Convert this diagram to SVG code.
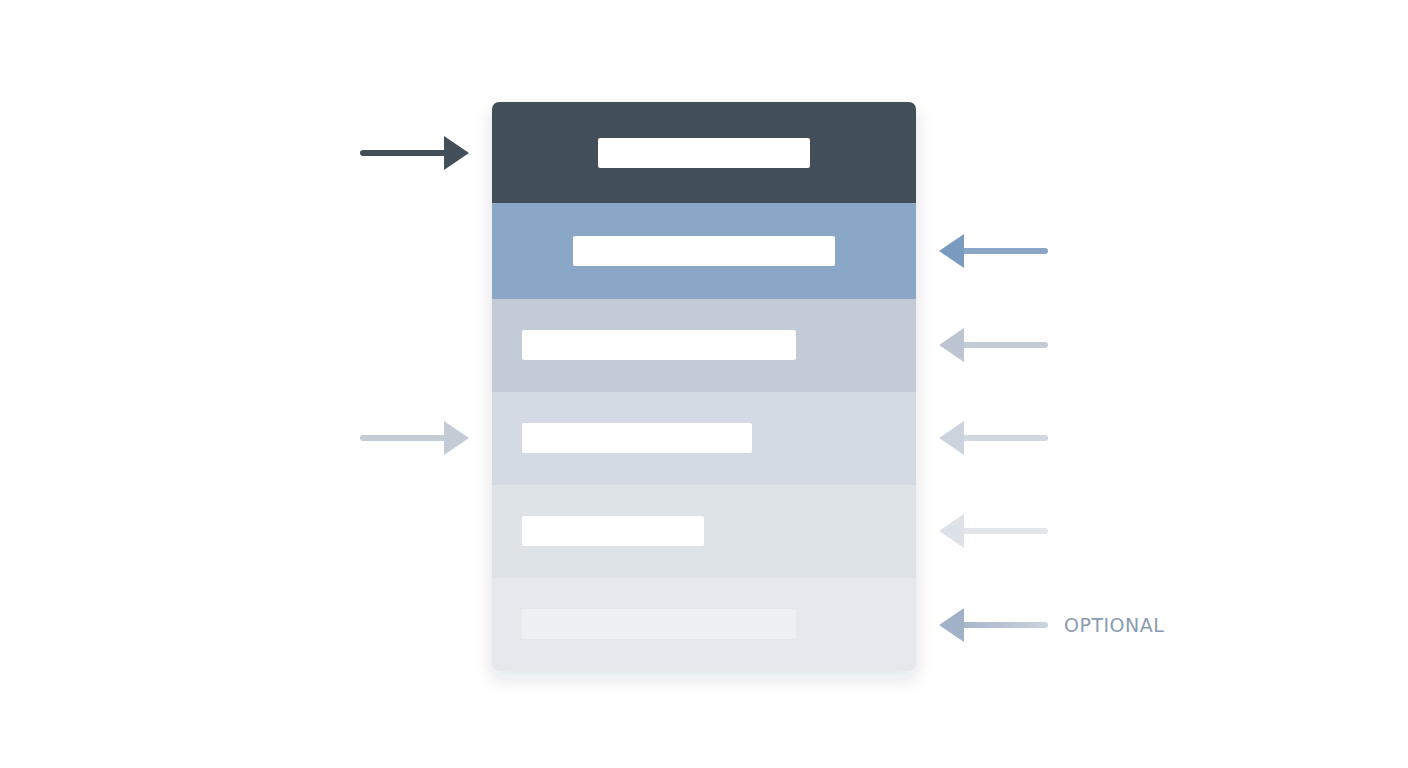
<svg xmlns="http://www.w3.org/2000/svg" width="1408" height="768" viewBox="0 0 1408 768">
  <style>
    .bar { fill: #ffffff; }
    .line { stroke-width: 6; stroke-linecap: round; fill: none; }
    .label { font-family: "DejaVu Sans", "Noto Sans", sans-serif; font-size: 19px; fill: #8a9bb0; letter-spacing: 0.5px; }
  </style>
  <defs>
    <filter id="shadow" x="-20%" y="-20%" width="140%" height="140%">
      <feDropShadow dx="0" dy="8" stdDeviation="9" flood-color="#1e2a36" flood-opacity="0.12"/>
    </filter>
    <clipPath id="cardClip">
      <rect x="492" y="102" width="424" height="569" rx="7"/>
    </clipPath>
    <linearGradient id="optGrad" gradientUnits="userSpaceOnUse" x1="962" y1="625" x2="1045" y2="625">
      <stop offset="0" stop-color="#a6b6ca"/>
      <stop offset="1" stop-color="#c9d2dd"/>
    </linearGradient>
  </defs>
  <rect width="1408" height="768" fill="#ffffff"/>

  <g id="card">
    <rect x="492" y="102" width="424" height="569" rx="7" fill="#e5e9ed" filter="url(#shadow)"/>
    <g clip-path="url(#cardClip)">
      <g id="row1">
        <rect x="492" y="102" width="424" height="101" fill="#434f58"/>
        <rect class="bar" x="598" y="138" width="212" height="30" rx="2"/>
      </g>
      <g id="row2">
        <rect x="492" y="203" width="424" height="96" fill="#8aa7c7"/>
        <rect class="bar" x="573" y="236" width="262" height="30" rx="2"/>
      </g>
      <g id="row3">
        <rect x="492" y="299" width="424" height="93" fill="#c3cbd6"/>
        <rect class="bar" x="522" y="330" width="274" height="30" rx="2"/>
      </g>
      <g id="row4">
        <rect x="492" y="392" width="424" height="93" fill="#d3dae3"/>
        <rect class="bar" x="522" y="423" width="230" height="30" rx="2"/>
      </g>
      <g id="row5">
        <rect x="492" y="485" width="424" height="93" fill="#dee3e8"/>
        <rect class="bar" x="522" y="516" width="182" height="30" rx="2"/>
      </g>
      <g id="row6">
        <rect x="492" y="578" width="424" height="93" fill="#e5e9ed"/>
        <rect x="522" y="609" width="274" height="30" rx="2" fill="#eef1f3"/>
      </g>
    </g>
  </g>

  <g id="connectors">
    <g id="in-top">
      <line class="line" x1="363" y1="153" x2="446" y2="153" stroke="#434f58"/>
      <polygon points="444,136 469,153 444,170" fill="#434f58"/>
    </g>
    <g id="in-row4">
      <line class="line" x1="363" y1="438" x2="446" y2="438" stroke="#c3cbd5"/>
      <polygon points="444,421 469,438 444,455" fill="#c3cbd5"/>
    </g>
    <g id="out-row2">
      <line class="line" x1="962" y1="251" x2="1045" y2="251" stroke="#8aa6c6"/>
      <polygon points="964,234 939,251 964,268" fill="#7b9abf"/>
    </g>
    <g id="out-row3">
      <line class="line" x1="962" y1="345" x2="1045" y2="345" stroke="#c3cbd6"/>
      <polygon points="964,328 939,345 964,362" fill="#bcc5d1"/>
    </g>
    <g id="out-row4">
      <line class="line" x1="962" y1="438" x2="1045" y2="438" stroke="#d0d7e0"/>
      <polygon points="964,421 939,438 964,455" fill="#cbd3dd"/>
    </g>
    <g id="out-row5">
      <line class="line" x1="962" y1="531" x2="1045" y2="531" stroke="#e2e6eb"/>
      <polygon points="964,514 939,531 964,548" fill="#dde2e8"/>
    </g>
    <g id="out-row6">
      <line class="line" x1="962" y1="625" x2="1045" y2="625" stroke="url(#optGrad)"/>
      <polygon points="964,608 939,625 964,642" fill="#a1b2c8"/>
    </g>
  </g>

  <text class="label" x="1064" y="632">OPTIONAL</text>
</svg>
